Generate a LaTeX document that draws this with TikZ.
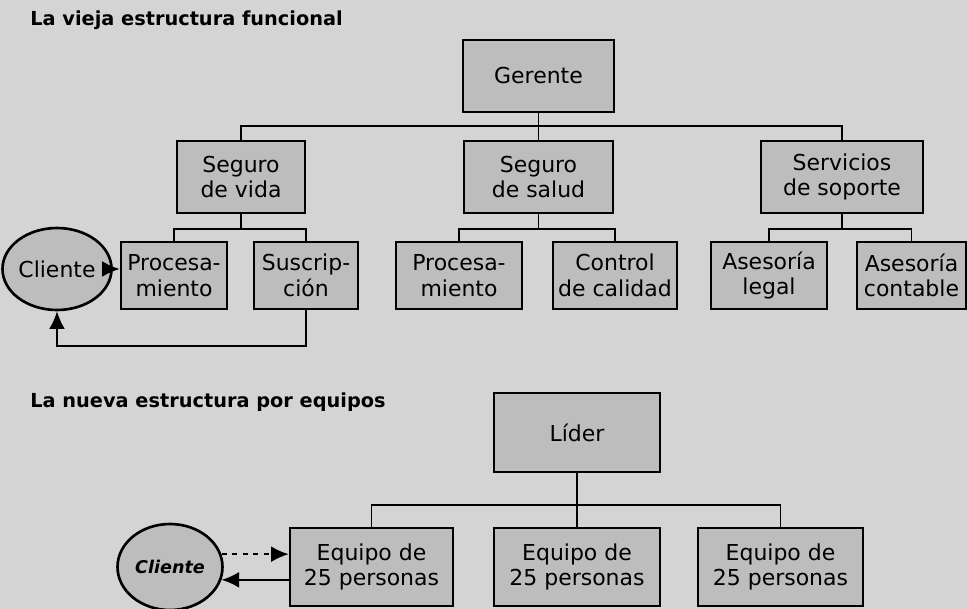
\documentclass[tikz,border=0pt]{standalone}
\usepackage{fontspec}
\setmainfont{DejaVu Sans}
\usetikzlibrary{arrows.meta,shapes.geometric}
\definecolor{bgc}{gray}{0.83}
\definecolor{boxc}{gray}{0.74}
\tikzset{
  box/.style={draw=black, line width=1.5pt, fill=boxc, align=center, inner sep=0pt,
    font=\fontsize{12.5}{14.5}\selectfont},
  conn/.style={line width=1.1pt},
  arr/.style={line width=1.1pt, -{Latex[length=10pt,width=9pt]}},
  ttl/.style={anchor=west, font=\bfseries\fontsize{11}{13}\selectfont, inner sep=0pt},
  cli/.style={draw=black, line width=1.5pt, fill=boxc, ellipse, inner sep=0pt}
}
\begin{document}
\begin{tikzpicture}[x=0.02cm, y=-0.02cm]
\fill[bgc] (0,0) rectangle (968,609);
\useasboundingbox (0,0) rectangle (968,609);

% ---- top part ----
\node[ttl] (t1) at (30,20) {La vieja estructura funcional};
\node[box, minimum width=151*0.02cm, minimum height=72*0.02cm] (gerente) at (538.5,76) {Gerente};
\node[box, minimum width=128*0.02cm, minimum height=72*0.02cm] (vida) at (241,177) {Seguro\\de vida};
\node[box, minimum width=149*0.02cm, minimum height=72*0.02cm] (salud) at (538.5,177) {Seguro\\de salud};
\node[box, minimum width=162*0.02cm, minimum height=72*0.02cm] (soporte) at (842,177) {Servicios\\de soporte};

\node[box, minimum width=106*0.02cm, minimum height=67*0.02cm] (proc1) at (174,275.5) {Procesa-\\miento};
\node[box, minimum width=104*0.02cm, minimum height=67*0.02cm] (susc) at (306,275.5) {Suscrip-\\ción};
\node[box, minimum width=126*0.02cm, minimum height=67*0.02cm] (proc2) at (459,275.5) {Procesa-\\miento};
\node[box, minimum width=124*0.02cm, minimum height=67*0.02cm] (control) at (615,275.5) {Control\\de calidad};
\node[box, minimum width=116*0.02cm, minimum height=67*0.02cm] (legal) at (769,275.5) {Asesoría\\legal};
\node[box, minimum width=109*0.02cm, minimum height=67*0.02cm] (contable) at (911.5,275.5) {Asesoría\\contable};

\node[cli, minimum width=89*0.02cm, minimum height=82*0.02cm, font=\fontsize{12.5}{14}\selectfont] (cliente1) at (57,269) {Cliente};

\draw[conn] (gerente.south) -- ++(0,13) coordinate (b1);
\draw[conn] (vida.north) |- (b1) -| (soporte.north);
\draw[conn] (salud.north) -- (b1);

\draw[conn] (vida.south) -- ++(0,15) coordinate (b2);
\draw[conn] (proc1.north) |- (b2) -| (susc.north);
\draw[conn] (salud.south) -- ++(0,15) coordinate (b3);
\draw[conn] (proc2.north) |- (b3) -| (control.north);
\draw[conn] (soporte.south) -- ++(0,15) coordinate (b4);
\draw[conn] (legal.north) |- (b4) -| (contable.north);

\draw[arr] (cliente1.east) -- (cliente1.east -| proc1.west);
\draw[arr] (susc.south) -- ++(0,36) -| (cliente1.south);

% ---- bottom part ----
\node[ttl] (t2) at (30,402) {La nueva estructura por equipos};
\node[box, minimum width=166*0.02cm, minimum height=79*0.02cm] (lider) at (577,432.5) {Líder};
\node[box, minimum width=163*0.02cm, minimum height=78*0.02cm] (eq1) at (371.5,567) {Equipo de\\25 personas};
\node[box, minimum width=166*0.02cm, minimum height=78*0.02cm] (eq2) at (577,567) {Equipo de\\25 personas};
\node[box, minimum width=165*0.02cm, minimum height=78*0.02cm] (eq3) at (780.5,567) {Equipo de\\25 personas};

\node[cli, minimum width=105*0.02cm, minimum height=86*0.02cm, font=\bfseries\itshape\fontsize{10}{12}\selectfont] (cliente2) at (170,567) {Cliente};

\draw[conn] (lider.south) -- ++(0,32) coordinate (b5);
\draw[conn] (eq1.north) |- (b5) -| (eq3.north);
\draw[conn] (eq2.north) -- (b5);

\draw[arr, dashed] (cliente2.14) -- (cliente2.14 -| eq1.west);
\draw[arr] (cliente2.-14 -| eq1.west) -- (cliente2.-14);
\end{tikzpicture}
\end{document}
